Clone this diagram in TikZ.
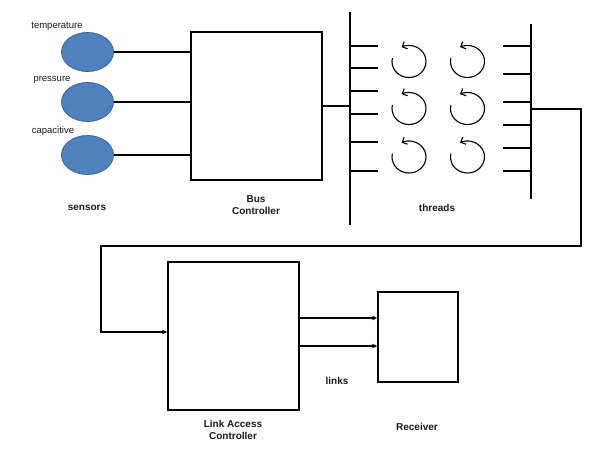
\documentclass[tikz,border=0pt]{standalone}
\usepackage{fontspec}
\setmainfont{Liberation Sans}
\usetikzlibrary{shapes.geometric,arrows.meta,calc}
\definecolor{sfill}{HTML}{4F81BD}
\definecolor{sdraw}{HTML}{3A6494}
\definecolor{txt}{HTML}{1A1A1A}
\begin{document}
\begin{tikzpicture}[x=1pt,y=-1pt,
  sensor/.style={ellipse, fill=sfill, draw=sdraw, line width=0.8pt, minimum width=52pt, minimum height=39pt, inner sep=0pt},
  box/.style={draw, rectangle, inner sep=0pt, line width=1.1pt},
  lbl/.style={font=\fontsize{9.5}{11}\selectfont, text=txt, inner sep=0pt},
  blbl/.style={font=\fontsize{10}{12.5}\selectfont\bfseries, align=center, inner sep=0pt, text=txt},
  bar/.style={line width=1.5pt},
  wire/.style={line width=1.1pt},
  arr/.style={wire, -{Triangle[length=5pt,width=4pt]}},
  cyc/.style={line width=1.1pt, -{Straight Barb[length=4pt,width=8pt]}}
]
\useasboundingbox (0,0) rectangle (613,450);

% sensors
\node[sensor] (t) at (87.5,52) {};
\node[sensor] (p) at (87.5,102) {};
\node[sensor] (c) at (87.5,155) {};
\node[lbl] (tl) at (57,26) {temperature};
\node[lbl] (pl) at (52,80) {pressure};
\node[lbl] (cl) at (53,131) {capacitive};
\node[blbl] (sl) at (87,208) {sensors};

% bus controller
\node[box, minimum width=131pt, minimum height=148pt] (bus) at (256.5,106) {};
\node[blbl] (busl) at (256,205) {Bus\\Controller};
\draw[wire] (t.east) -- (t.east -| bus.west);
\draw[wire] (p.east) -- (p.east -| bus.west);
\draw[wire] (c.east) -- (c.east -| bus.west);

% thread bars
\coordinate (lbt) at (350,12);
\coordinate (lbb) at (350,225);
\coordinate (lb) at (350,106);
\draw[bar] (lbt) -- (lbb);
\draw[wire] (bus.east) -- (lb);
\foreach \y in {46,68,91,114,142,171} \draw[wire] (350,\y) -- (378,\y);

\coordinate (rbt) at (531,24);
\coordinate (rbb) at (531,199);
\coordinate (rb) at (531,109);
\draw[bar] (rbt) -- (rbb);
\foreach \y in {46,74,102,125,148,171} \draw[wire] (503,\y) -- (531,\y);

% threads
\foreach \cx in {409,467.5}
  \foreach \cy in {61.5,108.5,157}
    \draw[cyc] (\cx,\cy) ++(192:17 and 16) arc[start angle=192, end angle=-116, x radius=17, y radius=16];
\node[blbl] (thl) at (437,208) {threads};

% link access controller and receiver
\node[box, minimum width=131pt, minimum height=148pt] (lac) at (233.5,336) {};
\node[blbl] (lacl) at (233,430) {Link Access\\Controller};
\node[box, minimum width=80pt, minimum height=90pt] (rcv) at (418,337) {};
\node[blbl] (rcvl) at (417,427) {Receiver};
\node[blbl] (lnk) at (337,381) {links};

\coordinate (c1) at (581,246);
\coordinate (c2) at (101,332);
\draw[arr] (rb) -| (c1) -| (c2) -- (c2 -| lac.west);

\coordinate (l1) at ($(lac.east)+(0,-18)$);
\coordinate (l2) at ($(lac.east)+(0,10)$);
\draw[arr, line width=2pt] (l1) -- (l1 -| rcv.west);
\draw[arr] (l2) -- (l2 -| rcv.west);
\end{tikzpicture}
\end{document}
